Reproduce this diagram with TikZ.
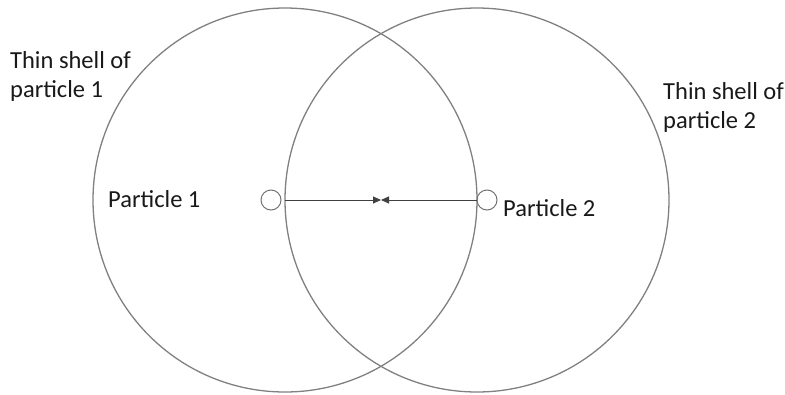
\documentclass[tikz,border=0pt]{standalone}
\usepackage{fontspec}
\setmainfont{Carlito}
\usetikzlibrary{arrows.meta}
\begin{document}
\begin{tikzpicture}[x=1pt,y=-1pt,
  shell/.style={draw=black!50,line width=1.3pt},
  particle/.style={circle,draw=black!55,line width=1pt,minimum size=20pt,inner sep=0pt},
  label/.style={font=\fontsize{24.5}{29}\selectfont,text=black!90,inner sep=0pt,align=left},
  force/.style={draw=black!75,line width=0.9pt,-{Triangle[length=8pt,width=7pt]}}]
\useasboundingbox (0,0) rectangle (785,394);
\coordinate (c1) at (285,200);
\coordinate (c2) at (477,200);
\coordinate (mid) at (381,200);
\node[shell,circle,minimum size=384pt,inner sep=0pt] (shell1) at (c1) {};
\node[shell,circle,minimum size=384pt,inner sep=0pt] (shell2) at (c2) {};
\node[particle] (p1) at (271,200) {};
\node[particle] (p2) at (487,200) {};
\draw[force] (c1) -- (mid);
\draw[force] (c2) -- (mid);
\node[label,anchor=west] (t1) at (108,199) {Particle 1};
\node[label,anchor=west] (t2) at (503,208) {Particle 2};
\node[label,anchor=north west] (s1) at (10,51) {Thin shell of\\particle 1};
\node[label,anchor=north west] (s2) at (663,82) {Thin shell of\\particle 2};
\end{tikzpicture}
\end{document}
